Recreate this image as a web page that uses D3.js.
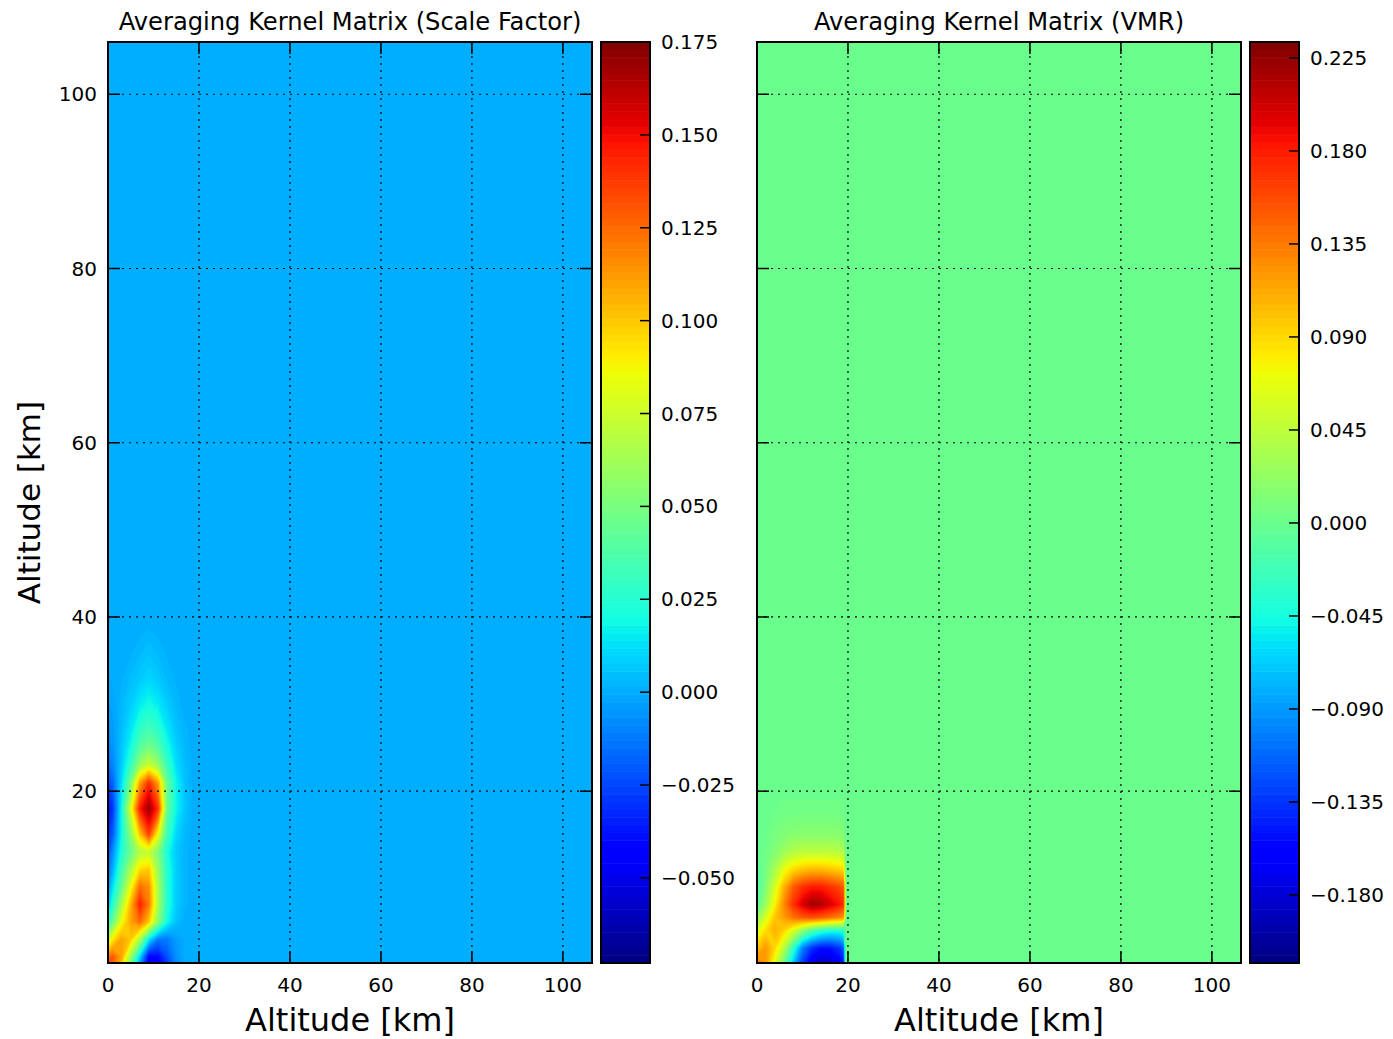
<!DOCTYPE html>
<html>
<head>
<meta charset="utf-8">
<script src="https://cdn.jsdelivr.net/npm/d3@7"></script>
<style>
  body { margin: 0; background: #fff; }
  svg text { font-family: "DejaVu Sans", sans-serif; fill: #000; }
</style>
</head>
<body>
<div id="chart"></div>
<script>
// Scale-factor averaging kernel, sampled on an altitude grid (km)
const sfAltX = [0, 1, 3, 5, 7, 9, 11, 13, 15, 17, 19, 21, 110];
const sfAltY = [0.3, 1, 3, 5, 7, 9, 11, 13, 15, 18, 21, 23, 25, 27, 30, 33, 36, 39, 42, 110];
const sfKernel = [
    [ 0.130,  0.130, 0.100, 0.050, 0.000, -0.048, -0.045, -0.028, -0.008, 0.000, 0, 0, 0],
    [ 0.120,  0.130, 0.110, 0.060, 0.010, -0.042, -0.040, -0.022, -0.006, 0.000, 0, 0, 0],
    [ 0.070,  0.090, 0.110, 0.100, 0.065,  0.015, -0.012, -0.012, -0.004, 0.000, 0, 0, 0],
    [ 0.025,  0.045, 0.085, 0.110, 0.125,  0.100,  0.055,  0.020,  0.005, 0.000, 0, 0, 0],
    [ 0.005,  0.025, 0.065, 0.105, 0.145,  0.120,  0.065,  0.025,  0.008, 0.002, 0, 0, 0],
    [-0.005,  0.012, 0.045, 0.085, 0.125,  0.115,  0.065,  0.025,  0.008, 0.002, 0, 0, 0],
    [-0.015,  0.000, 0.035, 0.065, 0.095,  0.100,  0.060,  0.025,  0.008, 0.002, 0, 0, 0],
    [-0.022, -0.008, 0.025, 0.045, 0.068,  0.073,  0.052,  0.022,  0.007, 0.002, 0, 0, 0],
    [-0.030, -0.020, 0.020, 0.055, 0.100,  0.135,  0.085,  0.032,  0.010, 0.003, 0, 0, 0],
    [-0.038, -0.030, 0.020, 0.080, 0.145,  0.170,  0.140,  0.045,  0.018, 0.006, 0, 0, 0],
    [-0.025, -0.018, 0.012, 0.050, 0.110,  0.140,  0.110,  0.045,  0.018, 0.005, 0, 0, 0],
    [-0.015, -0.010, 0.008, 0.030, 0.060,  0.075,  0.060,  0.032,  0.012, 0.004, 0, 0, 0],
    [-0.010, -0.006, 0.006, 0.020, 0.040,  0.050,  0.040,  0.022,  0.009, 0.003, 0, 0, 0],
    [-0.006, -0.004, 0.004, 0.014, 0.028,  0.035,  0.028,  0.015,  0.006, 0.002, 0, 0, 0],
    [-0.003, -0.002, 0.003, 0.008, 0.015,  0.020,  0.015,  0.008,  0.003, 0.000, 0, 0, 0],
    [-0.001,  0.000, 0.001, 0.004, 0.007,  0.010,  0.007,  0.003,  0.001, 0.000, 0, 0, 0],
    [ 0.000,  0.000, 0.000, 0.001, 0.003,  0.005,  0.003,  0.001,  0.000, 0.000, 0, 0, 0],
    [ 0.000,  0.000, 0.000, 0.000, 0.000,  0.001,  0.000,  0.000,  0.000, 0.000, 0, 0, 0],
    [ 0.000,  0.000, 0.000, 0.000, 0.000,  0.000,  0.000,  0.000,  0.000, 0.000, 0, 0, 0],
    [ 0.000,  0.000, 0.000, 0.000, 0.000,  0.000,  0.000,  0.000,  0.000, 0.000, 0, 0, 0]
];
const sfRange = [-0.0729, 0.175];
const sfTicks = [0.175, 0.150, 0.125, 0.100, 0.075, 0.050, 0.025, 0.000, -0.025, -0.050];

// VMR averaging kernel
const vmrAltX = [0, 2, 4, 6, 8, 10, 12, 14, 16, 18, 19, 19.6, 110];
const vmrAltY = [0.3, 2, 4, 5.5, 7, 9, 11, 13, 15, 18, 22, 26, 30, 34, 37, 110];
const vmrKernel = [
    [ 0.140, 0.120, 0.060, 0.000, -0.070, -0.130, -0.170, -0.190, -0.185, -0.165, -0.150, 0, 0],
    [ 0.100, 0.120, 0.090, 0.040, -0.030, -0.100, -0.135, -0.150, -0.150, -0.135, -0.120, 0, 0],
    [ 0.060, 0.090, 0.110, 0.090,  0.060,  0.020, -0.010, -0.030, -0.040, -0.040, -0.035, 0, 0],
    [ 0.020, 0.060, 0.100, 0.120,  0.140,  0.150,  0.155,  0.150,  0.140,  0.130,  0.120, 0, 0],
    [-0.010, 0.030, 0.080, 0.130,  0.170,  0.200,  0.220,  0.215,  0.200,  0.185,  0.170, 0, 0],
    [-0.020, 0.015, 0.060, 0.110,  0.150,  0.170,  0.180,  0.180,  0.170,  0.160,  0.150, 0, 0],
    [-0.010, 0.008, 0.035, 0.070,  0.090,  0.100,  0.105,  0.105,  0.100,  0.095,  0.090, 0, 0],
    [ 0.000, 0.004, 0.015, 0.030,  0.040,  0.045,  0.045,  0.045,  0.045,  0.042,  0.040, 0, 0],
    [ 0.000, 0.002, 0.008, 0.013,  0.016,  0.017,  0.017,  0.017,  0.017,  0.016,  0.015, 0, 0],
    [ 0.000, 0.001, 0.002, 0.003,  0.003,  0.003,  0.003,  0.003,  0.003,  0.003,  0.003, 0, 0],
    [ 0.000, 0.000, 0.001, 0.001,  0.001,  0.001,  0.001,  0.001,  0.001,  0.001,  0.001, 0, 0],
    [ 0.000, 0.000, 0.000, 0.000,  0.000,  0.000,  0.000,  0.000,  0.000,  0.000,  0.000, 0, 0],
    [ 0.000, 0.000, 0.000, 0.000,  0.000,  0.000,  0.000,  0.000,  0.000,  0.000,  0.000, 0, 0],
    [ 0.000, 0.000, 0.000, 0.000,  0.000,  0.000,  0.000,  0.000,  0.000,  0.000,  0.000, 0, 0],
    [ 0.000, 0.000, 0.000, 0.000,  0.000,  0.000,  0.000,  0.000,  0.000,  0.000,  0.000, 0, 0],
    [ 0.000, 0.000, 0.000, 0.000,  0.000,  0.000,  0.000,  0.000,  0.000,  0.000,  0.000, 0, 0]
];
const vmrRange = [-0.2129, 0.2327];
const vmrTicks = [0.225, 0.180, 0.135, 0.090, 0.045, 0.000, -0.045, -0.090, -0.135, -0.180];

const altTicks = [0, 20, 40, 60, 80, 100];
const altDomainX = [0, 106.4];
const altDomainY = [0.28, 106];

// matplotlib "jet" colormap, channel by channel
const jetR = d3.scaleLinear().domain([0, 0.35, 0.66, 0.89, 1]).range([0, 0, 1, 1, 0.5]).clamp(true);
const jetG = d3.scaleLinear().domain([0, 0.125, 0.375, 0.64, 0.91, 1]).range([0, 0, 1, 1, 0, 0]).clamp(true);
const jetB = d3.scaleLinear().domain([0, 0.11, 0.34, 0.65, 1]).range([0.5, 1, 1, 0, 0]).clamp(true);
const jet = t => d3.rgb(jetR(t) * 255, jetG(t) * 255, jetB(t) * 255).formatHex();

const width = 1393, height = 1039;
const plotTop = 42, plotBottom = 963, plotW = 484;
const nLevels = 120;

const svg = d3.select("#chart").append("svg")
    .attr("width", width)
    .attr("height", height);

function drawPanel(p) {
    const x = d3.scaleLinear().domain(altDomainX).range([p.left, p.left + plotW]);
    const y = d3.scaleLinear().domain(altDomainY).range([plotBottom, plotTop]);

    // contour levels spread over the colorbar range
    const levels = d3.range(nLevels + 1).map(i => p.range[0] + (p.range[1] - p.range[0]) * i / nLevels);
    const bandColor = i => jet((i + 0.5) / nLevels);
    const zeroBand = d3.bisectRight(levels, 0) - 1;

    svg.append("clipPath").attr("id", p.id + "-clip")
        .append("rect")
        .attr("x", p.left).attr("y", plotTop)
        .attr("width", plotW).attr("height", plotBottom - plotTop);

    const g = svg.append("g").attr("clip-path", `url(#${p.id}-clip)`);

    g.append("rect")
        .attr("x", p.left).attr("y", plotTop)
        .attr("width", plotW).attr("height", plotBottom - plotTop)
        .attr("fill", bandColor(zeroBand));

    // grid index -> altitude (samples sit at cell centres)
    const ix = d3.scaleLinear().domain(p.altX.map((_, i) => i + 0.5)).range(p.altX);
    const iy = d3.scaleLinear().domain(p.altY.map((_, j) => j + 0.5)).range(p.altY);
    const path = d3.geoPath(d3.geoTransform({
        point(a, b) { this.stream.point(x(ix(a)), y(iy(b))); }
    }));

    const contours = d3.contours()
        .size([p.altX.length, p.altY.length])
        .thresholds(levels.slice(0, -1))(p.kernel.flat());

    g.selectAll("path.band")
        .data(contours)
        .join("path")
        .attr("class", "band")
        .attr("d", path)
        .attr("fill", (d, i) => bandColor(i));

    // dotted grid
    const grid = svg.append("g")
        .attr("stroke", "#000")
        .attr("stroke-width", 1.2)
        .attr("stroke-dasharray", "2,5");
    altTicks.filter(t => t > altDomainX[0]).forEach(t => {
        grid.append("line")
            .attr("x1", x(t)).attr("x2", x(t))
            .attr("y1", plotTop).attr("y2", plotBottom);
    });
    altTicks.filter(t => t > altDomainY[0]).forEach(t => {
        grid.append("line")
            .attr("x1", p.left).attr("x2", p.left + plotW)
            .attr("y1", y(t)).attr("y2", y(t));
    });

    // inward ticks on all four sides
    const ticks = svg.append("g").attr("stroke", "#000").attr("stroke-width", 1.5);
    const tl = 12;
    altTicks.forEach(t => {
        ticks.append("line").attr("x1", x(t)).attr("x2", x(t)).attr("y1", plotBottom).attr("y2", plotBottom - tl);
        ticks.append("line").attr("x1", x(t)).attr("x2", x(t)).attr("y1", plotTop).attr("y2", plotTop + tl);
    });
    altTicks.filter(t => t > altDomainY[0]).forEach(t => {
        ticks.append("line").attr("x1", p.left).attr("x2", p.left + tl).attr("y1", y(t)).attr("y2", y(t));
        ticks.append("line").attr("x1", p.left + plotW).attr("x2", p.left + plotW - tl).attr("y1", y(t)).attr("y2", y(t));
    });

    svg.append("rect")
        .attr("x", p.left).attr("y", plotTop)
        .attr("width", plotW).attr("height", plotBottom - plotTop)
        .attr("fill", "none")
        .attr("stroke", "#000")
        .attr("stroke-width", 2);

    // tick labels
    svg.append("g").selectAll("text")
        .data(altTicks)
        .join("text")
        .attr("x", d => x(d))
        .attr("y", plotBottom + 29)
        .attr("text-anchor", "middle")
        .style("font-size", "20px")
        .text(d => d);

    if (p.yLabels) {
        svg.append("g").selectAll("text")
            .data(altTicks.filter(t => t > altDomainY[0]))
            .join("text")
            .attr("x", p.left - 11)
            .attr("y", d => y(d))
            .attr("dy", "0.35em")
            .attr("text-anchor", "end")
            .style("font-size", "20px")
            .text(d => d);

        svg.append("text")
            .attr("transform", `translate(40, ${(plotTop + plotBottom) / 2}) rotate(-90)`)
            .attr("text-anchor", "middle")
            .style("font-size", "31px")
            .text("Altitude [km]");
    }

    svg.append("text")
        .attr("x", p.left + plotW / 2)
        .attr("y", 1031)
        .attr("text-anchor", "middle")
        .style("font-size", "32px")
        .text("Altitude [km]");

    svg.append("text")
        .attr("x", p.left + plotW / 2)
        .attr("y", 30)
        .attr("text-anchor", "middle")
        .style("font-size", "24.2px")
        .text(p.title);

    // colorbar
    const cbW = 49;
    const cy = d3.scaleLinear().domain(p.range).range([plotBottom, plotTop]);
    const cb = svg.append("g");
    cb.selectAll("rect")
        .data(d3.range(nLevels))
        .join("rect")
        .attr("x", p.cbLeft)
        .attr("y", i => cy(levels[i + 1]))
        .attr("width", cbW)
        .attr("height", i => cy(levels[i]) - cy(levels[i + 1]) + 0.5)
        .attr("fill", i => bandColor(i));

    cb.append("g").selectAll("line")
        .data(p.ticks)
        .join("line")
        .attr("x1", p.cbLeft + cbW).attr("x2", p.cbLeft + cbW - 10)
        .attr("y1", d => cy(d)).attr("y2", d => cy(d))
        .attr("stroke", "#000")
        .attr("stroke-width", 1.5);

    cb.append("rect")
        .attr("x", p.cbLeft).attr("y", plotTop)
        .attr("width", cbW).attr("height", plotBottom - plotTop)
        .attr("fill", "none")
        .attr("stroke", "#000")
        .attr("stroke-width", 2);

    cb.append("g").selectAll("text")
        .data(p.ticks)
        .join("text")
        .attr("x", p.cbLeft + cbW + 11)
        .attr("y", d => cy(d))
        .attr("dy", "0.35em")
        .style("font-size", "20px")
        .text(d => d3.format(".3f")(d));
}

drawPanel({
    id: "sf", title: "Averaging Kernel Matrix (Scale Factor)",
    left: 108, cbLeft: 601, yLabels: true,
    altX: sfAltX, altY: sfAltY, kernel: sfKernel, range: sfRange, ticks: sfTicks
});
drawPanel({
    id: "vmr", title: "Averaging Kernel Matrix (VMR)",
    left: 757, cbLeft: 1250, yLabels: false,
    altX: vmrAltX, altY: vmrAltY, kernel: vmrKernel, range: vmrRange, ticks: vmrTicks
});
</script>
</body>
</html>
